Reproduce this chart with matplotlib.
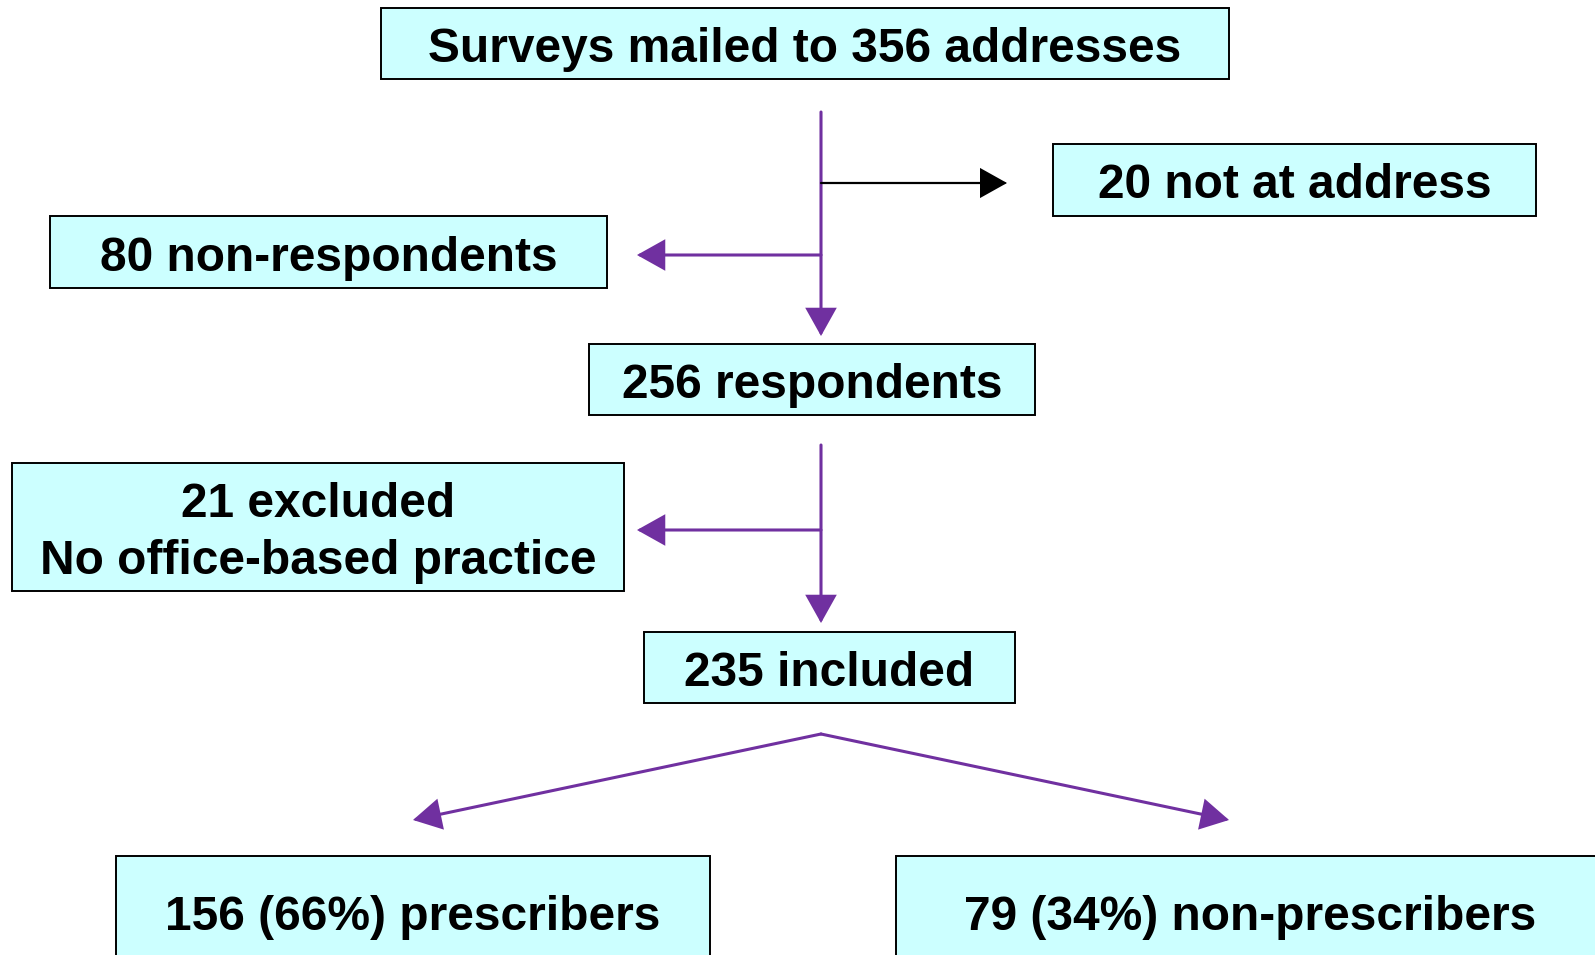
import matplotlib.pyplot as plt
from matplotlib.patches import Rectangle, FancyArrowPatch

# -------------------------------------------------------
# Flowchart content
# -------------------------------------------------------
box_labels = [
    "Surveys mailed to 356 addresses",
    "20 not at address",
    "80 non-respondents",
    "256 respondents",
    "21 excluded\nNo office-based practice",
    "235 included",
    "156 (66%) prescribers",
    "79 (34%) non-prescribers",
]

# box geometry in pixel coords: (x0, y0, x1, y1), y measured from top
box_xy = [
    (381, 8, 1229, 79),
    (1053, 144, 1536, 216),
    (50, 216, 607, 288),
    (589, 344, 1035, 415),
    (12, 463, 624, 591),
    (644, 632, 1015, 703),
    (116, 856, 710, 966),
    (896, 856, 1605, 966),
]

FILL = "#CCFFFF"
PURPLE = "#7030A0"

W, H = 1595, 955
fig = plt.figure(figsize=(W / 100, H / 100), dpi=100)
ax = fig.add_axes([0, 0, 1, 1])
ax.set_xlim(0, W)
ax.set_ylim(H, 0)
ax.axis("off")

for label, (x0, y0, x1, y1) in zip(box_labels, box_xy):
    ax.add_patch(Rectangle((x0, y0), x1 - x0, y1 - y0, facecolor=FILL,
                           edgecolor="black", linewidth=1.4, zorder=2))
    ax.text((x0 + x1) / 2, (y0 + y1) / 2 + 6, label, ha="center", va="center",
            fontsize=34.5, fontweight="bold", family="Liberation Sans",
            linespacing=1.36, zorder=3)


def arrow(p0, p1, color=PURPLE, lw=2.2):
    ax.add_patch(FancyArrowPatch(
        p0, p1, arrowstyle="-|>,head_length=17,head_width=9.5",
        mutation_scale=1, color=color, lw=lw, shrinkA=0, shrinkB=0,
        joinstyle="miter", zorder=1))


# first stage
arrow((821, 112), (821, 336))
arrow((821, 183), (1007, 183), color="black", lw=1.6)
arrow((821, 255), (637, 255))

# second stage
arrow((821, 445), (821, 623))
arrow((821, 530), (637, 530))

# split
arrow((821, 734), (413, 820))
arrow((821, 734), (1229, 820))

fig.savefig("out.png", dpi=100)
